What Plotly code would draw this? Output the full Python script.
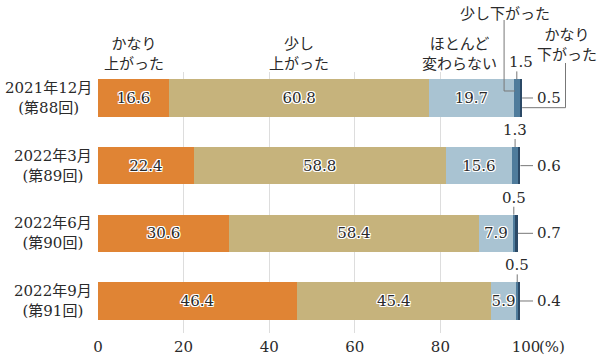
import plotly.graph_objects as go

# ---------------- data ----------------
categories = ["2021年12月<br>(第88回)", "2022年3月<br>(第89回)",
              "2022年6月<br>(第90回)", "2022年9月<br>(第91回)"]
series_names = ["かなり上がった", "少し上がった", "ほとんど変わらない", "少し下がった", "かなり下がった"]
header_labels = ["かなり<br>上がった", "少し<br>上がった", "ほとんど<br>変わらない",
                 "少し下がった", "かなり<br>下がった"]
much_up = [16.6, 22.4, 30.6, 46.4]
bit_up = [60.8, 58.8, 58.4, 45.4]
no_change = [19.7, 15.6, 7.9, 5.9]
bit_down = [1.5, 1.3, 0.5, 0.5]
much_down = [0.5, 0.6, 0.7, 0.4]
x_tick_vals = [0, 20, 40, 60, 80, 100]
x_tick_text = ["0", "20", "40", "60", "80", "100"]
unit_label = "(%)"

series = [much_up, bit_up, no_change, bit_down, much_down]
colors = ["#E08434", "#C6B37C", "#A9C3D2", "#4F7C9C", "#2B4966"]
show_inside = [True, True, True, False, False]

NUM_FONT = "DejaVu Serif, Noto Sans CJK JP"
JP_FONT = "Noto Sans CJK JP"
TXT = "#2A2A2A"
LINE = "#777777"

W, H = 600, 359
ML, MR, MT, MB = 98, 74, 72, 26
PLOT_W = W - ML - MR
PLOT_H = H - MT - MB
XMIN, XMAX = 0, 100
Y_TOP, Y_BOT = -0.384, 3.473
BAR_W = 0.55
HALF = BAR_W / 2

def px(v, dx=0.0):
    return (v - XMIN) / (XMAX - XMIN) + dx / PLOT_W

def py(c, dy=0.0):  # dy positive = downward in pixels
    return (Y_BOT - c) / (Y_BOT - Y_TOP) - dy / PLOT_H

ypos = list(range(len(categories)))

fig = go.Figure()
for name, vals, col, inside in zip(series_names, series, colors, show_inside):
    fig.add_trace(go.Bar(
        y=ypos, x=vals, name=name, orientation="h", width=BAR_W,
        marker=dict(color=col, line=dict(width=0)),
        text=[f"{v:.1f}" for v in vals] if inside else None,
        textposition="inside" if inside else "none",
        insidetextanchor="middle", textangle=0, constraintext="none",
        textfont=dict(family=NUM_FONT, size=15, color=TXT,
                      shadow="-1px -1px 0 #fff, 1px -1px 0 #fff, -1px 1px 0 #fff, 1px 1px 0 #fff, 0 1px 0 #fff, 0 -1px 0 #fff, 1px 0 0 #fff, -1px 0 0 #fff"),
        hoverinfo="skip",
    ))

annotations = []
shapes = []

def line(x0, y0, x1, y1):
    shapes.append(dict(type="line", xref="paper", yref="paper",
                       x0=x0, y0=y0, x1=x1, y1=y1,
                       line=dict(color=LINE, width=1)))

# category labels (centered two-line blocks)
for i, cat in enumerate(categories):
    annotations.append(dict(text=cat, xref="paper", yref="y", x=0, y=i,
                            xanchor="right", yanchor="middle", align="center",
                            xshift=-4, showarrow=False,
                            font=dict(family=NUM_FONT, size=15, color=TXT)))

# small-segment labels above bars and right-side labels
for i in ypos:
    s3 = much_up[i] + bit_up[i] + no_change[i]
    c4 = s3 + bit_down[i] / 2
    total = s3 + bit_down[i] + much_down[i]
    line(px(c4), py(i - HALF), px(c4), py(i - HALF, -8))
    annotations.append(dict(text=f"{bit_down[i]:.1f}", xref="paper", yref="paper",
                            x=px(c4, 4 if i == 0 else 0), y=py(i - HALF, -17),
                            xanchor="center", yanchor="middle", showarrow=False,
                            font=dict(family=NUM_FONT, size=15, color=TXT)))
    line(px(total), py(i), px(XMAX, 7), py(i))
    annotations.append(dict(text=f"{much_down[i]:.1f}", xref="paper", yref="paper",
                            x=px(XMAX, 9), y=py(i), xanchor="left", yanchor="middle",
                            showarrow=False,
                            font=dict(family=NUM_FONT, size=15, color=TXT)))

# header labels over first bar
s3_0 = much_up[0] + bit_up[0] + no_change[0]
tot_0 = s3_0 + bit_down[0] + much_down[0]
hdr_font = dict(family=JP_FONT, size=15, color=TXT)
annotations.append(dict(text=header_labels[0], xref="paper", yref="paper",
                        x=px(much_up[0] / 2), y=py(0, -45), showarrow=False,
                        xanchor="center", yanchor="middle", font=hdr_font))
annotations.append(dict(text=header_labels[1], xref="paper", yref="paper",
                        x=px(much_up[0] + bit_up[0] / 2), y=py(0, -45), showarrow=False,
                        xanchor="center", yanchor="middle", font=hdr_font))
annotations.append(dict(text=header_labels[2], xref="paper", yref="paper",
                        x=px(much_up[0] + bit_up[0] + no_change[0] / 2, -12), y=py(0, -45),
                        showarrow=False, xanchor="center", yanchor="middle", font=hdr_font))
annotations.append(dict(text=header_labels[3], xref="paper", yref="paper",
                        x=px(s3_0, -9), y=py(0, -85), showarrow=False,
                        xanchor="center", yanchor="middle", font=hdr_font))
annotations.append(dict(text=header_labels[4], xref="paper", yref="paper",
                        x=px(XMAX, 41), y=py(0, -54), showarrow=False,
                        xanchor="center", yanchor="middle", font=hdr_font))

# elbow leader: 少し下がった
line(px(s3_0, -9.5), py(0, -78), px(s3_0, -9.5), py(0, -7))
line(px(s3_0, -9.5), py(0, -7), px(s3_0, 1.5), py(0, -7))
# elbow leader: かなり下がった
line(px(XMAX, 39.5), py(0, -35), px(XMAX, 39.5), py(0, 9.7))
line(px(XMAX, 39.5), py(0, 9.7), px(tot_0), py(0, 9.7))

# unit label
annotations.append(dict(text=unit_label, xref="paper", yref="paper",
                        x=px(XMAX, 11), y=py(Y_BOT, 14), xanchor="left", yanchor="middle",
                        showarrow=False, font=dict(family=NUM_FONT, size=15, color=TXT)))

fig.update_layout(
    barmode="stack", width=W, height=H,
    margin=dict(l=ML, r=MR, t=MT, b=MB, pad=0, autoexpand=False),
    paper_bgcolor="white", plot_bgcolor="white",
    showlegend=False,
    annotations=annotations, shapes=shapes,
    xaxis=dict(range=[XMIN, XMAX], tickvals=x_tick_vals, ticktext=x_tick_text,
               showgrid=True, gridcolor="#DDDDDD", gridwidth=1, zeroline=False,
               showline=False, ticks="", automargin=False, ticklabelstandoff=3,
               tickfont=dict(family=NUM_FONT, size=15, color=TXT)),
    yaxis=dict(range=[Y_BOT, Y_TOP], showticklabels=False, showgrid=False,
               zeroline=False, showline=False, ticks="", automargin=False),
)

fig.write_html("out.html", config={"displayModeBar": False},
               post_script="document.body.style.margin='0';document.body.style.overflow='hidden';")
